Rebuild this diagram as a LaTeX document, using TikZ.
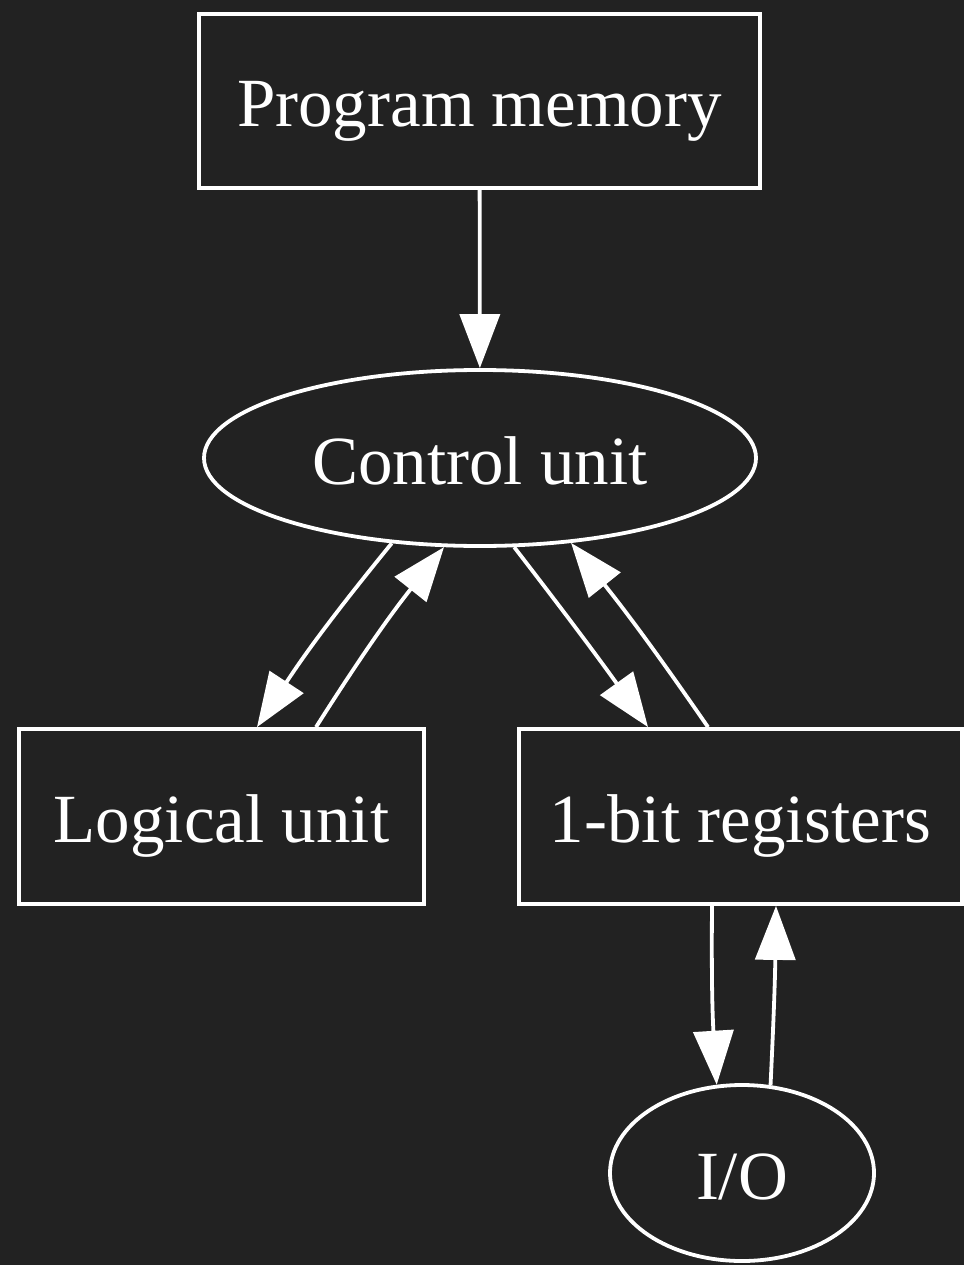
\documentclass[tikz,border=0pt]{standalone}
\usepackage{fontspec}
\setmainfont{Liberation Serif}
\usetikzlibrary{arrows.meta,shapes.geometric}
\definecolor{bg}{HTML}{222222}
\begin{document}
\begin{tikzpicture}[x=1pt,y=-1pt,
  every node/.style={draw=white,line width=3.8pt,text=white,inner sep=0pt,
    font=\fontsize{69}{83}\selectfont,text height=52pt,text depth=0pt},
  box/.style={rectangle},
  oval/.style={ellipse},
  edge/.style={draw=white,line width=3.8pt,-{Triangle[length=54pt,width=40pt]}}]
\fill[bg] (0,0) rectangle (964,1265);
\useasboundingbox (0,0) rectangle (964,1265);
\node[box,minimum width=561pt,minimum height=174pt] (pm) at (479.5,101) {Program memory};
\node[oval,minimum width=552pt,minimum height=176pt] (cu) at (480,458) {Control unit};
\node[box,minimum width=405pt,minimum height=175pt] (lu) at (221.5,816.5) {Logical unit};
\node[box,minimum width=443pt,minimum height=175pt] (rb) at (740.5,816.5) {1-bit registers};
\node[oval,minimum width=264pt,minimum height=176pt] (io) at (742,1173) {I/O};
\draw[edge] (pm) -- (cu);
\draw[edge] (cu.224) to[bend right=3] ([xshift=35.5pt]lu.north);
\draw[edge] ([xshift=94.5pt]lu.north) to[bend left=3] (cu.248);
\draw[edge] (cu.291) to[bend left=1] ([xshift=-92.5pt]rb.north);
\draw[edge] ([xshift=-32.5pt]rb.north) to[bend right=2] (cu.317);
\draw[edge] ([xshift=-28.5pt]rb.south) to[bend right=2] (io.106);
\draw[edge] (io.72) to[bend right=1] ([xshift=35.5pt]rb.south);
\end{tikzpicture}
\end{document}
